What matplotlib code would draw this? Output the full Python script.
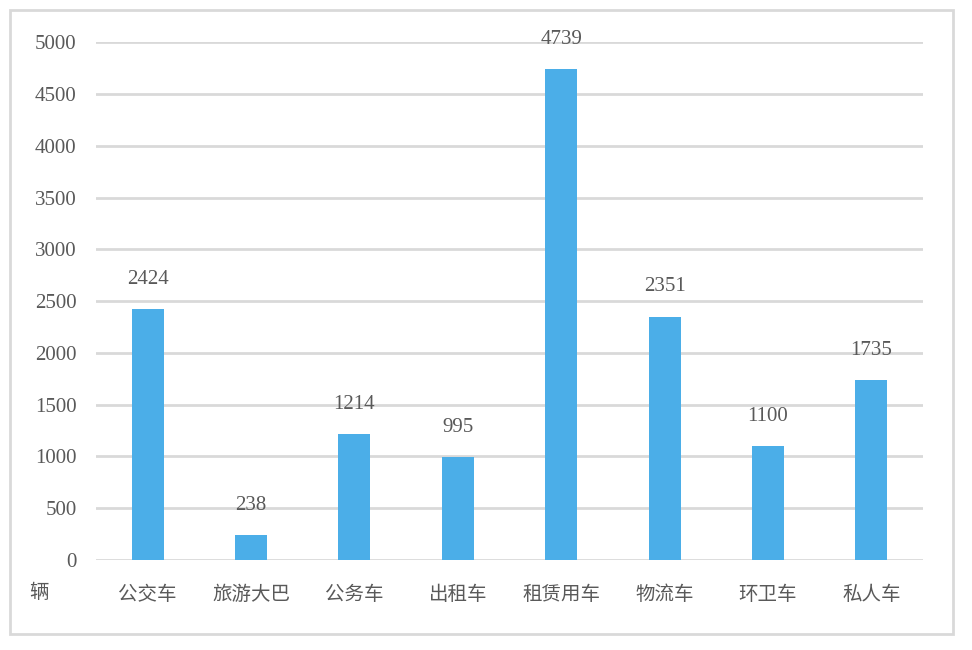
import matplotlib
matplotlib.use('Agg')
import matplotlib.pyplot as plt
from matplotlib.patches import Rectangle

categories = ['公交车', '旅游大巴', '公务车', '出租车', '租赁用车', '物流车', '环卫车', '私人车']
counts = [2424, 238, 1214, 995, 4739, 2351, 1100, 1735]
y_ticks = list(range(0, 5001, 500))
unit_label = '辆'

bar_color = '#4BAEE8'
text_color = '#595959'
grid_color = '#D9D9D9'
cjk = ['Noto Sans CJK SC', 'DejaVu Sans']

plt.rcParams['font.family'] = ['Liberation Serif', 'Noto Sans CJK SC', 'DejaVu Sans']

fig = plt.figure(figsize=(9.72, 6.5), dpi=100)
ax = fig.add_axes([0.0988, 0.1385, 0.8508, 0.7965])

x = list(range(len(categories)))
ax.bar(x, counts, width=0.31, color=bar_color, zorder=3)

# value labels sit about 30px above each bar
for xi, val in zip(x, counts):
    ax.annotate(str(val), (xi, val), xytext=(0, 21.5), textcoords='offset points',
                ha='center', va='center', fontsize=15, color=text_color)

ax.set_xlim(-0.5, len(categories) - 0.5)
ax.set_ylim(0, 5000)
ax.set_yticks(y_ticks)
ax.set_yticklabels([str(t) for t in y_ticks], fontsize=15, color=text_color)
ax.set_xticks(x)
ax.set_xticklabels(categories, fontsize=14, color=text_color, family=cjk)
ax.tick_params(axis='both', length=0)
ax.tick_params(axis='y', pad=14)
ax.tick_params(axis='x', pad=17)
ax.grid(axis='y', color=grid_color, linewidth=2, zorder=0)
for s in ax.spines.values():
    s.set_visible(False)

fig.text(39 / 972, 1 - 592 / 650, unit_label, ha='center', va='center', fontsize=14,
         color=text_color, family=cjk)

# outer frame around the chart
fig.patches.append(Rectangle((10 / 972, 1 - 634 / 650), 943 / 972, 624 / 650,
                             transform=fig.transFigure, fill=False,
                             edgecolor=grid_color, linewidth=2))

fig.savefig('out.png', dpi=100)
